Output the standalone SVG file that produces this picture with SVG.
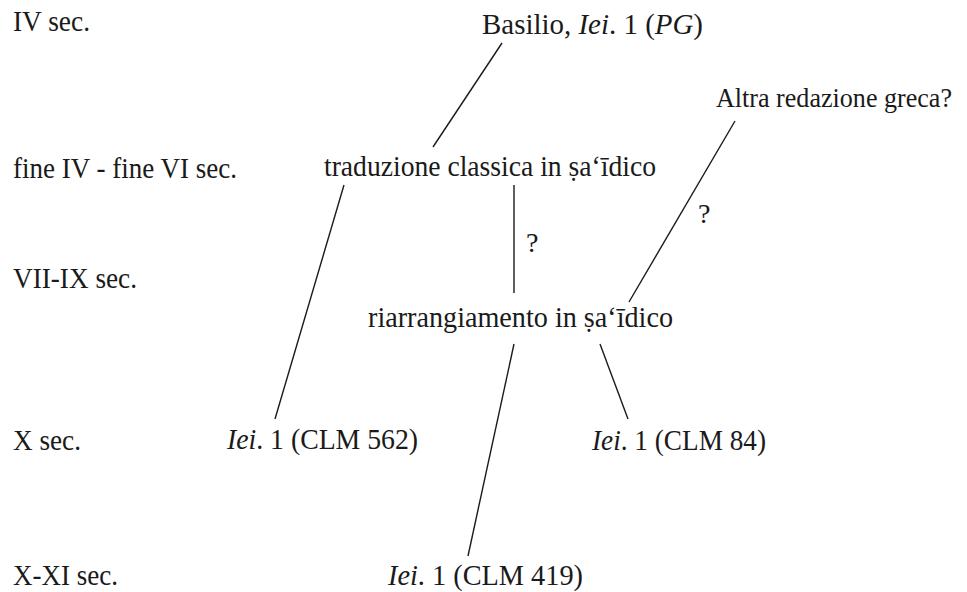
<svg xmlns="http://www.w3.org/2000/svg" width="967" height="592" viewBox="0 0 967 592">
  <style>
    text { font-family: "Liberation Serif", "Times New Roman", "DejaVu Serif", serif; font-size: 29.5px; fill: #1a1a1a; }
    .it { font-style: italic; }
    .q { font-size: 28px; }
    .edge { font-size: 27.5px; }
    .link { stroke: #1a1a1a; stroke-width: 1.4; fill: none; }
  </style>
  <rect width="967" height="592" fill="#ffffff"/>

  <!-- period labels (condensed Times-style setting via textLength) -->
  <g id="periods">
    <text x="13" y="31" textLength="77" lengthAdjust="spacingAndGlyphs">IV sec.</text>
    <text x="13" y="178" textLength="224" lengthAdjust="spacingAndGlyphs">fine IV - fine VI sec.</text>
    <text x="13" y="288" textLength="124" lengthAdjust="spacingAndGlyphs">VII-IX sec.</text>
    <text x="13" y="450" textLength="68" lengthAdjust="spacingAndGlyphs">X sec.</text>
    <text x="13" y="585" textLength="105" lengthAdjust="spacingAndGlyphs">X-XI sec.</text>
  </g>

  <!-- connectors -->
  <g id="connectors">
    <line class="link" x1="502" y1="43" x2="433" y2="147"/>
    <line class="link" x1="735" y1="121" x2="629" y2="302"/>
    <line class="link" x1="514" y1="185" x2="514" y2="293"/>
    <line class="link" x1="344" y1="185" x2="275" y2="419"/>
    <line class="link" x1="514" y1="344" x2="468" y2="556"/>
    <line class="link" x1="600" y1="344" x2="628" y2="419"/>
    <text class="q" x="526" y="252">?</text>
    <text class="q" x="698" y="223">?</text>
  </g>

  <g id="basilio">
    <text x="482" y="34" textLength="221" lengthAdjust="spacingAndGlyphs">Basilio, <tspan class="it">Iei</tspan>. 1 (<tspan class="it">PG</tspan>)</text>
  </g>
  <g id="altra-redazione">
    <text class="edge" x="716" y="107" textLength="236" lengthAdjust="spacingAndGlyphs">Altra redazione greca?</text>
  </g>
  <g id="traduzione">
    <text x="324" y="176" textLength="332" lengthAdjust="spacingAndGlyphs">traduzione classica in ṣa‘īdico</text>
  </g>
  <g id="riarrangiamento">
    <text x="368" y="327" textLength="305" lengthAdjust="spacingAndGlyphs">riarrangiamento in ṣa‘īdico</text>
  </g>
  <g id="clm562">
    <text x="227" y="449" textLength="191" lengthAdjust="spacingAndGlyphs"><tspan class="it">Iei</tspan>. 1 (CLM 562)</text>
  </g>
  <g id="clm84">
    <text x="592" y="450" textLength="174" lengthAdjust="spacingAndGlyphs"><tspan class="it">Iei</tspan>. 1 (CLM 84)</text>
  </g>
  <g id="clm419">
    <text x="388" y="585" textLength="195" lengthAdjust="spacingAndGlyphs"><tspan class="it">Iei</tspan>. 1 (CLM 419)</text>
  </g>
</svg>
